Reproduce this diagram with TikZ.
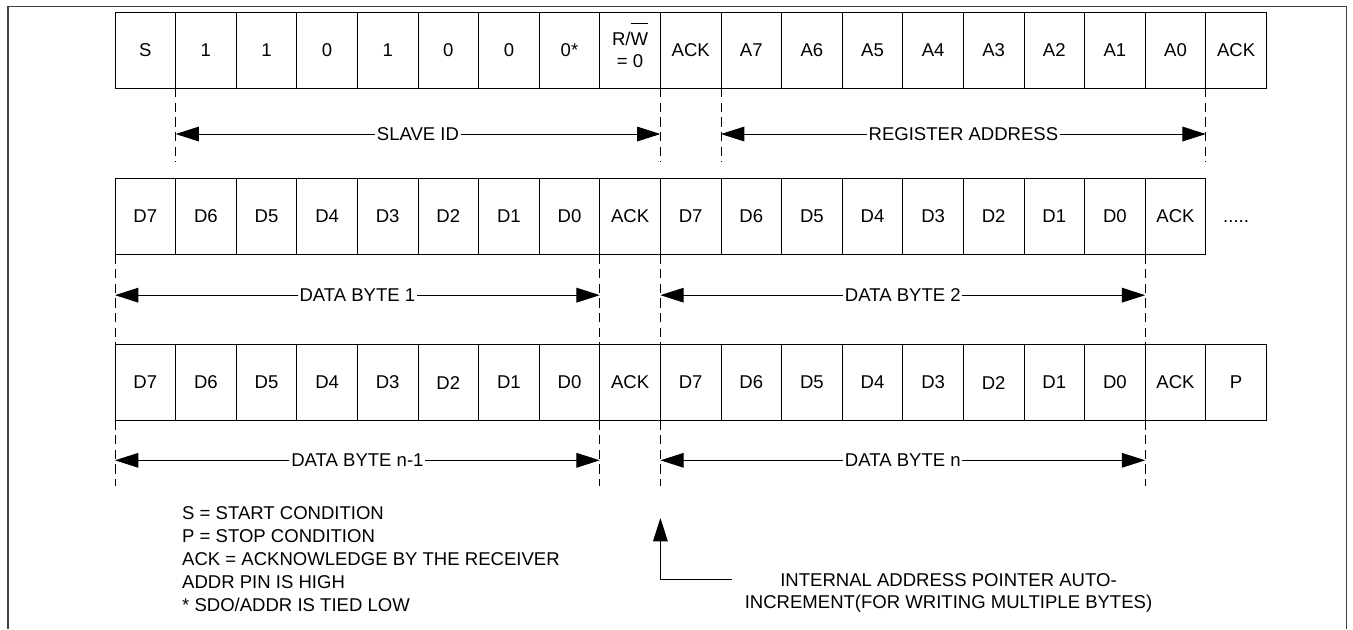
\documentclass[tikz,border=0pt]{standalone}
\usepackage{fontspec}
\setmainfont{Liberation Sans}
\usetikzlibrary{arrows.meta,positioning,calc}
\newcommand{\highbar}[1]{\setbox0\hbox{#1}\rlap{\smash{\rule[\dimexpr\ht0+7pt\relax]{\wd0}{0.75pt}}}\box0}

\begin{document}
\begin{tikzpicture}[x=0.75pt, y=-0.75pt, >={Triangle[length=17.5pt,width=11pt]},
  font=\fontsize{13.9}{16.5}\selectfont, line width=0.75pt,
  cell/.style={draw,outer sep=0pt,inner sep=0pt,minimum width=45.45pt,minimum height=56.6pt,align=center},
  cut/.style={dash pattern=on 7pt off 4pt},
  spanlabel/.style={inner xsep=1pt,inner ysep=0pt},
  frame/.style={draw=black!75,line width=1.1pt}]
\useasboundingbox (0,0) rectangle (1353,629);
\draw[frame] (8,629) -- (8,6.5) -- (1346.5,6.5) -- (1346.5,629);

% first frame: slave id + register address
\node[cell] (r1-1) at (145.3,50.3) {S};
\foreach \t [count=\i from 2] in {1,1,0,1,0,0,0*,{R/\highbar{W}\\= 0},ACK,A7,A6,A5,A4,A3,A2,A1,A0,ACK} {
  \pgfmathtruncatemacro\j{\i-1}
  \node[cell,right=0pt of r1-\j] (r1-\i) {\t};
}

% data bytes 1 and 2
\node[cell,below=68pt of r1-1] (r2-1) {D7};
\foreach \t [count=\i from 2] in {D6,D5,D4,D3,D2,D1,D0,ACK,D7,D6,D5,D4,D3,D2,D1,D0,ACK} {
  \pgfmathtruncatemacro\j{\i-1}
  \node[cell,right=0pt of r2-\j] (r2-\i) {\t};
}
\node[cell,draw=none,right=0pt of r2-18] (more) {\vphantom{D}.....};

% data bytes n-1 and n
\node[cell,below=68pt of r2-1] (r3-1) {D7};
\foreach \t [count=\i from 2] in {D6,D5,D4,D3,D2,D1,D0,ACK,D7,D6,D5,D4,D3,D2,D1,D0,ACK,P} {
  \pgfmathtruncatemacro\j{\i-1}
  \node[cell,right=0pt of r3-\j] (r3-\i) {\t};
}

% dashed markers
\foreach \c in {2,10,11,19} {
  \draw[cut] (r1-\c.south west) -- ++(0,74);
}
\foreach \c in {1,9,10,18} {
  \draw[cut] (r2-\c.south west) -- (r3-\c.north west);
  \draw[cut] (r3-\c.south west) -- ++(0,66);
}

% spans
\node[spanlabel] (sid) at ($(r1-2.south west)!0.5!(r1-10.south west)+(0,46)$) {SLAVE ID};
\draw[->] (sid) -- (sid -| r1-2.south west);
\draw[->] (sid) -- (sid -| r1-10.south west);
\node[spanlabel] (reg) at ($(r1-11.south west)!0.5!(r1-19.south west)+(0,46)$) {REGISTER ADDRESS};
\draw[->] (reg) -- (reg -| r1-11.south west);
\draw[->] (reg) -- (reg -| r1-19.south west);
\node[spanlabel] (db1) at ($(r2-1.south west)!0.5!(r2-9.south west)+(0,41)$) {DATA BYTE 1};
\draw[->] (db1) -- (db1 -| r2-1.south west);
\draw[->] (db1) -- (db1 -| r2-9.south west);
\node[spanlabel] (db2) at ($(r2-10.south west)!0.5!(r2-18.south west)+(0,41)$) {DATA BYTE 2};
\draw[->] (db2) -- (db2 -| r2-10.south west);
\draw[->] (db2) -- (db2 -| r2-18.south west);
\node[spanlabel] (dbm) at ($(r3-1.south west)!0.5!(r3-9.south west)+(0,40)$) {DATA BYTE n-1};
\draw[->] (dbm) -- (dbm -| r3-1.south west);
\draw[->] (dbm) -- (dbm -| r3-9.south west);
\node[spanlabel] (dbn) at ($(r3-10.south west)!0.5!(r3-18.south west)+(0,40)$) {DATA BYTE n};
\draw[->] (dbn) -- (dbn -| r3-10.south west);
\draw[->] (dbn) -- (dbn -| r3-18.south west);

% notes
\node[anchor=north west,align=left,inner sep=0pt,font=\fontsize{13.9}{17.25}\selectfont] (legend) at (181.7,506)
  {S = START CONDITION\\P = STOP CONDITION\\ACK = ACKNOWLEDGE BY THE RECEIVER\\ADDR PIN IS HIGH\\* SDO/ADDR IS TIED LOW};
\node[anchor=north,align=center,inner sep=0pt] (ptr) at (948.5,573.5)
  {INTERNAL ADDRESS POINTER AUTO-\\INCREMENT(FOR WRITING MULTIPLE BYTES)};
\coordinate (ptrtail) at (731.7,579);
\coordinate (ptrtip) at (r3-10.south west |- 0,518);
\draw[->] (ptrtail) -| (ptrtip);
\end{tikzpicture}
\end{document}
